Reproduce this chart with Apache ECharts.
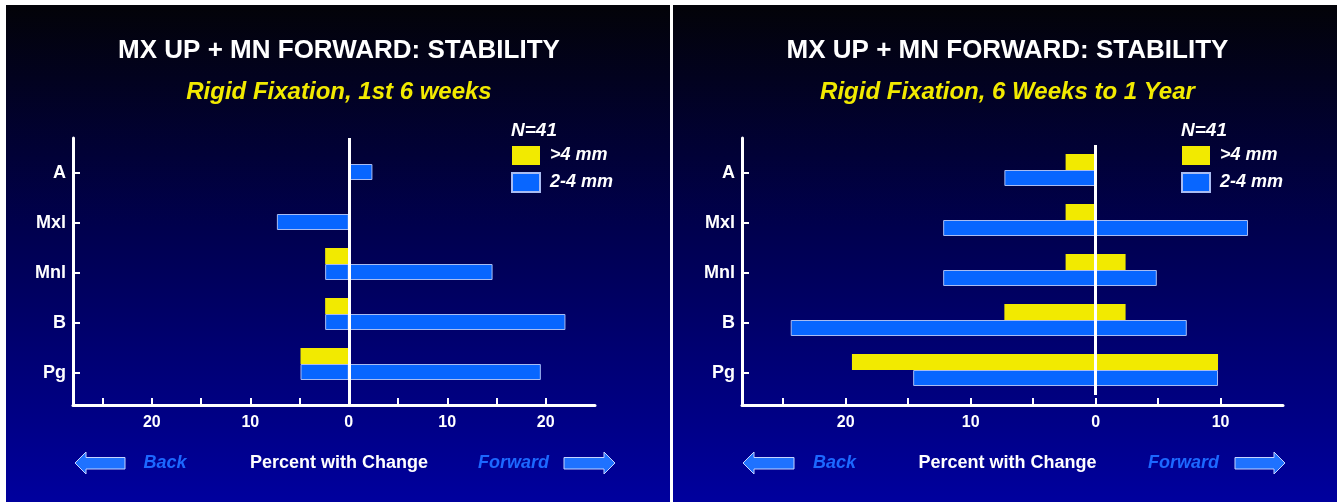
<!DOCTYPE html>
<html><head><meta charset="utf-8">
<script src="https://cdn.jsdelivr.net/npm/echarts@6/dist/echarts.min.js"></script>
<style>html,body{margin:0;padding:0;background:#fff;}#c{width:1337px;height:502px;}</style>
</head><body><div id="c"></div>
<script>
// ---------- DATA (percent of N=41 with change) ----------
const categories = ['A', 'Mxl', 'Mnl', 'B', 'Pg'];
const seriesNames = ['>4 mm', '2-4 mm'];
const mainTitle = 'MX UP + MN FORWARD: STABILITY';
const subTitles = ['Rigid Fixation, 1st 6 weeks', 'Rigid Fixation, 6 Weeks to 1 Year'];
const nText = 'N=41';
const xAxisName = 'Percent with Change';
const backText = 'Back';
const forwardText = 'Forward';

// Panel 1: 1st 6 weeks
const p1YellowBack = [0, 0, 2.4, 2.4, 4.9];
const p1YellowFwd  = [0, 0, 0, 0, 0];
const p1BlueBack   = [0, 7.3, 2.4, 2.4, 4.9];
const p1BlueFwd    = [2.4, 0, 14.6, 22.0, 19.5];
// Panel 2: 6 weeks to 1 year
const p2YellowBack = [2.4, 2.4, 2.4, 7.3, 19.5];
const p2YellowFwd  = [0, 0, 2.4, 2.4, 9.8];
const p2BlueBack   = [7.3, 12.2, 12.2, 24.4, 14.6];
const p2BlueFwd    = [0, 12.2, 4.9, 7.3, 9.8];

const p1XTicks  = [-25, -20, -15, -10, -5, 0, 5, 10, 15, 20];
const p1XLabels = [-20, -10, 0, 10, 20];
const p2XTicks  = [-25, -20, -15, -10, -5, 0, 5, 10];
const p2XLabels = [-20, -10, 0, 10];
const catPositions = [1, 2, 3, 4, 5];

// ---------- STYLE ----------
const FONT = "'Liberation Sans', Arial, sans-serif";
const YELLOW = '#f2ea00';
const BLUE = '#0866ff';
const BLUE_TEXT = '#1c68ff';
const WHITE = '#ffffff';

const panels = [
  { x0: 6, cx: 339, frame: { left: 73, top: 138, width: 522, height: 267 }, xmin: -28, xmax: 25,
    barTop: 139, ticks: p1XTicks, labels: p1XLabels, zeroOnFrame: true,
    yb: p1YellowBack, yf: p1YellowFwd, bb: p1BlueBack, bf: p1BlueFwd,
    legendLeft: 511, sub: subTitles[0],
    back: 165, fwd: 513.5, arrL: [75, 86, 125], arrR: [564, 604, 615] },
  { x0: 673, cx: 1007.5, frame: { left: 742, top: 138, width: 541, height: 267 }, xmin: -28.3, xmax: 15,
    barTop: 145, ticks: p2XTicks, labels: p2XLabels, zeroOnFrame: false,
    yb: p2YellowBack, yf: p2YellowFwd, bb: p2BlueBack, bf: p2BlueFwd,
    legendLeft: 1181, sub: subTitles[1],
    back: 834.5, fwd: 1183.5, arrL: [743, 754, 794], arrR: [1235, 1274, 1285] }
];

const neg = a => a.map(v => v ? -v : null);
const pos = a => a.map(v => v ? v : null);

const grid = [], xAxis = [], yAxis = [], series = [], legend = [], graphic = [];

panels.forEach((p, i) => {
  const fi = i * 2, bi = i * 2 + 1;
  grid.push({ left: p.frame.left, top: p.frame.top, width: p.frame.width, height: p.frame.height, containLabel: false });
  grid.push({ left: p.frame.left, top: p.barTop, width: p.frame.width, height: 250, containLabel: false });

  // frame axes
  xAxis.push({
    type: 'value', gridIndex: fi, min: p.xmin, max: p.xmax,
    axisLine: { show: true, onZero: false, lineStyle: { color: WHITE, width: 3 } },
    axisTick: { show: true, inside: true, length: 7, customValues: p.ticks, lineStyle: { color: WHITE, width: 2 } },
    axisLabel: { show: true, customValues: p.labels, formatter: v => String(Math.abs(v)), color: WHITE,
      fontFamily: FONT, fontWeight: 'bold', fontSize: 16, margin: 10 },
    splitLine: { show: false }
  });
  yAxis.push({
    type: 'value', gridIndex: fi, inverse: true, min: 0.3, max: 5.64,
    axisLine: { show: true, onZero: false, lineStyle: { color: WHITE, width: 3 } },
    axisTick: { show: true, inside: true, length: 7, customValues: catPositions, lineStyle: { color: WHITE, width: 2 } },
    axisLabel: { show: true, customValues: catPositions, formatter: v => categories[Math.round(v) - 1],
      color: WHITE, fontFamily: FONT, fontWeight: 'bold', fontSize: 18, margin: 7 },
    splitLine: { show: false }
  });
  // bar axes (hidden)
  xAxis.push({ type: 'value', gridIndex: bi, min: p.xmin, max: p.xmax, show: false, splitLine: { show: false } });
  yAxis.push({ type: 'category', gridIndex: bi, data: categories, inverse: true, show: false });

  const common = { type: 'bar', xAxisIndex: bi, yAxisIndex: bi, barWidth: 16, barGap: '0%', silent: true };
  const yStyle = { color: YELLOW };
  const bStyle = { color: BLUE, borderColor: '#a9bcf2', borderWidth: 1 };
  series.push(Object.assign({ name: seriesNames[0], stack: 'y' + i, data: neg(p.yb), itemStyle: yStyle }, common));
  series.push(Object.assign({ name: seriesNames[0], stack: 'y' + i, data: pos(p.yf), itemStyle: yStyle }, common));
  series.push(Object.assign({ name: seriesNames[1], stack: 'b' + i, data: neg(p.bb), itemStyle: bStyle }, common));
  series.push(Object.assign({ name: seriesNames[1], stack: 'b' + i, data: pos(p.bf), itemStyle: bStyle }, common));

  // zero line
  series.push({
    type: 'line', data: [], silent: true,
    xAxisIndex: p.zeroOnFrame ? fi : bi, yAxisIndex: p.zeroOnFrame ? fi : bi,
    markLine: { silent: true, symbol: 'none', label: { show: false }, z: 10,
      lineStyle: { color: WHITE, width: 3, type: 'solid' }, data: [{ xAxis: 0 }] }
  });

  legend.push({
    show: true, left: p.legendLeft, top: 146, padding: 0, orient: 'vertical', itemWidth: 28, itemHeight: 19, itemGap: 7,
    icon: 'rect', selectedMode: false, data: seriesNames,
    textStyle: { color: WHITE, fontFamily: FONT, fontWeight: 'bold', fontStyle: 'italic', fontSize: 18, padding: [0, 0, 0, 5] }
  });

  // panel background
  graphic.push({ type: 'rect', z: -10, shape: { x: p.x0, y: 5, width: 664, height: 497 },
    style: { fill: new echarts.graphic.LinearGradient(0, 0, 0, 1, [
      { offset: 0, color: '#030308' }, { offset: 0.45, color: '#00004e' }, { offset: 1, color: '#00009e' }]) } });

  const txt = (x, y, text, color, size, italic, align) => ({
    type: 'text', z: 50, x: x, y: y,
    style: { text: text, fill: color, textAlign: align || 'center', textVerticalAlign: 'middle',
      font: (italic ? 'italic ' : '') + 'bold ' + size + 'px ' + FONT }
  });
  graphic.push(txt(p.cx, 51, mainTitle, WHITE, 26, false));
  graphic.push(txt(p.cx, 92, p.sub, YELLOW, 24, true));
  graphic.push(txt(p.legendLeft, 131, nText, WHITE, 19, true, 'left'));
  graphic.push(txt(p.cx, 463, xAxisName, WHITE, 18, false));
  graphic.push(txt(p.back, 463, backText, BLUE_TEXT, 18, true));
  graphic.push(txt(p.fwd, 463, forwardText, BLUE_TEXT, 18, true));

  const arrow = (tip, base, tail) => ({
    type: 'polygon', z: 50,
    shape: { points: [[tip, 463], [base, 452], [base, 457.5], [tail, 457.5], [tail, 469], [base, 469], [base, 474]] },
    style: { fill: '#1f72ff', stroke: '#c6d4ff', lineWidth: 1 }
  });
  graphic.push(arrow(p.arrL[0], p.arrL[1], p.arrL[2]));
  graphic.push(arrow(p.arrR[2], p.arrR[1], p.arrR[0]));
});

const chart = echarts.init(document.getElementById('c'), null, { renderer: 'canvas' });
chart.setOption({
  backgroundColor: '#ffffff',
  animation: false,
  grid, xAxis, yAxis, series, legend, graphic
});
</script>
</body></html>
